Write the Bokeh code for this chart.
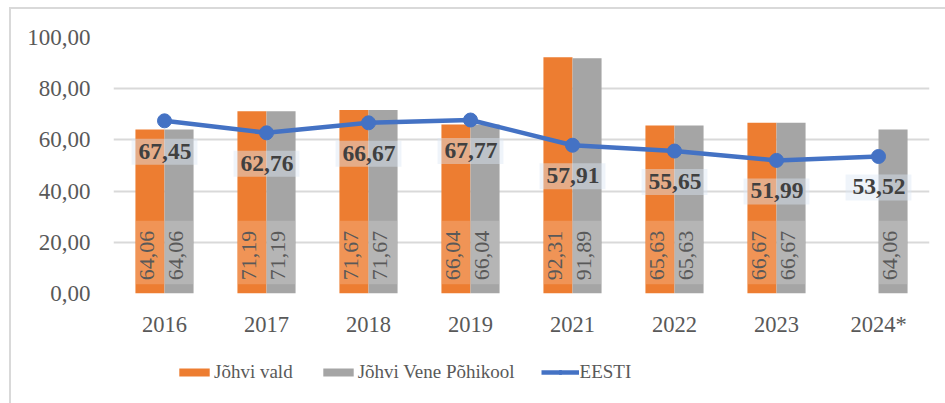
import math
from bokeh.plotting import figure
from bokeh.layouts import column
from bokeh.models import (FactorRange, ColumnDataSource, Legend, LegendItem,
                          FixedTicker, Range1d)
from bokeh.transform import dodge
from bokeh.core.properties import value
from bokeh.embed import file_html
from bokeh.resources import INLINE

years = ["2016", "2017", "2018", "2019", "2021", "2022", "2023", "2024*"]
johvi_vald = [64.06, 71.19, 71.67, 66.04, 92.31, 65.63, 66.67, None]
vene_pohikool = [64.06, 71.19, 71.67, 66.04, 91.89, 65.63, 66.67, 64.06]
eesti = [67.45, 62.76, 66.67, 67.77, 57.91, 55.65, 51.99, 53.52]
y_ticks = [0, 20, 40, 60, 80, 100]
series_names = ["Jõhvi vald", "Jõhvi Vene Põhikool", "EESTI"]

def fmt(v):
    return ("%.2f" % v).replace(".", ",")

FONT = "Liberation Serif"
TXT = "#595959"
ORANGE, GRAY, BLUE = "#ed7d31", "#a5a5a5", "#4472c4"

p = figure(x_range=FactorRange(*years), y_range=(0, 100),
           width=934, height=335, output_backend="svg", toolbar_location=None,
           min_border_left=102, min_border_right=16, min_border_top=28,
           min_border_bottom=51)
p.outline_line_color = None
p.background_fill_color = "white"
p.border_fill_color = "white"

src_o = ColumnDataSource(dict(x=[y for y, v in zip(years, johvi_vald) if v is not None],
                              top=[v for v in johvi_vald if v is not None],
                              lab=[fmt(v) for v in johvi_vald if v is not None]))
src_g = ColumnDataSource(dict(x=years, top=vene_pohikool,
                              lab=[fmt(v) for v in vene_pohikool]))
src_e = ColumnDataSource(dict(x=years, y=eesti, lab=[fmt(v) for v in eesti]))

bw = 0.285
p.vbar(x=dodge("x", -bw / 2, range=p.x_range), top="top", width=bw,
       bottom=0, source=src_o, fill_color=ORANGE, line_color=None)
p.vbar(x=dodge("x", bw / 2, range=p.x_range), top="top", width=bw,
       bottom=0, source=src_g, fill_color=GRAY, line_color=None)

# bar value labels (inside base, rotated)
for src, off in ((src_o, -bw / 2), (src_g, bw / 2)):
    p.text(x=dodge("x", off, range=p.x_range), y=0, text="lab", source=src,
           angle=math.pi / 2, y_offset=-41, text_align="center",
           text_baseline="middle", text_font=value(FONT),
           text_font_size="22px", text_color=TXT,
           background_fill_color="white", background_fill_alpha=0.18,
           padding=(4, 10, 4, 10))

p.line(x="x", y="y", source=src_e, line_color=BLUE, line_width=4.5)
p.scatter(x="x", y="y", source=src_e, size=14, fill_color=BLUE, line_color=BLUE)

p.text(x="x", y="y", text="lab", source=src_e, y_offset=31,
       text_align="center", text_baseline="middle", text_font=value(FONT),
       text_font_size="23.5px", text_font_style="bold", text_color="#404040",
       background_fill_color="#dce6f4", background_fill_alpha=0.45,
       padding=(7, 6, 5, 6))

# axes
p.yaxis.ticker = FixedTicker(ticks=y_ticks)
p.yaxis.major_label_overrides = {t: fmt(t) for t in y_ticks}
p.yaxis.axis_line_color = None
p.yaxis.major_tick_line_color = None
p.yaxis.minor_tick_line_color = None
p.yaxis.major_label_standoff = 17
p.yaxis.major_label_text_font = FONT
p.yaxis.major_label_text_font_size = "23px"
p.yaxis.major_label_text_color = TXT

p.xaxis.axis_line_color = None
p.xaxis.major_tick_line_color = None
p.xaxis.major_label_standoff = 12
p.xaxis.major_label_text_font = FONT
p.xaxis.major_label_text_font_size = "22.5px"
p.xaxis.major_label_text_color = TXT

p.xgrid.grid_line_color = None
p.ygrid.ticker = FixedTicker(ticks=y_ticks)
p.ygrid.grid_line_color = "#d9d9d9"
p.ygrid.grid_line_width = 2

# legend in a separate strip below the chart
pl = figure(width=934, height=59, output_backend="svg", toolbar_location=None,
            x_range=Range1d(0, 1), y_range=Range1d(0, 1),
            min_border_left=0, min_border_right=0, min_border_top=0,
            min_border_bottom=0)
pl.axis.visible = False
pl.grid.visible = False
pl.outline_line_color = None
pl.border_fill_color = "white"
lo = pl.vbar(x=[-5], top=[-5], width=0.1, fill_color=ORANGE, line_color=None)
lg = pl.vbar(x=[-5], top=[-5], width=0.1, fill_color=GRAY, line_color=None)
ll = pl.line(x=[-5, -4], y=[-5, -5], line_color=BLUE, line_width=4.5)
lc = pl.scatter(x=[-5], y=[-5], size=13, fill_color=BLUE, line_color=BLUE)

legend = Legend(items=[
    LegendItem(label=series_names[0], renderers=[lo]),
    LegendItem(label=series_names[1], renderers=[lg]),
    LegendItem(label=series_names[2], renderers=[ll, lc]),
], orientation="horizontal", location=(62, 20))
legend.background_fill_alpha = 0
legend.border_line_color = None
legend.glyph_width = 38
legend.glyph_height = 10
legend.label_text_font = FONT
legend.label_text_font_size = "19px"
legend.label_text_color = TXT
legend.label_standoff = 1
legend.spacing = 26
legend.padding = 0
legend.margin = 0
pl.add_layout(legend, "center")

lay = column(p, pl, spacing=0)
lay.styles = {"margin-left": "9px", "margin-top": "7px",
              "border-left": "2px solid #d9d9d9", "border-top": "2px solid #d9d9d9"}

open("out.html", "w").write(file_html(lay, INLINE))
